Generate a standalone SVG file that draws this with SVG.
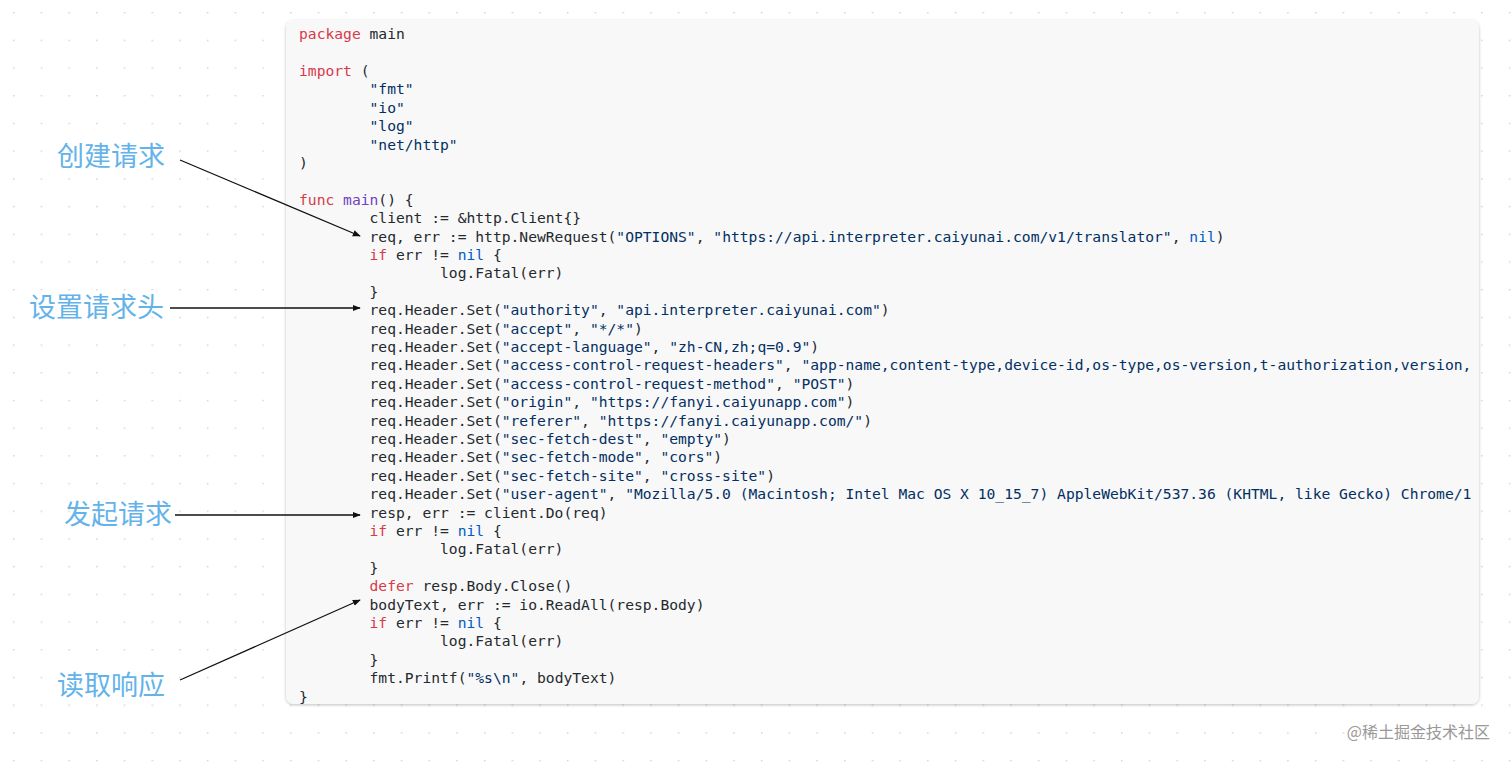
<svg xmlns="http://www.w3.org/2000/svg" width="1512" height="763" viewBox="0 0 1512 763">
<defs>
<pattern id="dots" x="13" y="12" width="27.7" height="27.7" patternUnits="userSpaceOnUse"><circle cx="0.8" cy="0.8" r="0.8" fill="#c8c8c8"/></pattern>
<filter id="sh" x="-5%" y="-5%" width="110%" height="110%"><feDropShadow dx="0" dy="1" stdDeviation="1.5" flood-color="#000" flood-opacity="0.25"/></filter>
<marker id="ah" viewBox="0 0 10 10" refX="9" refY="5" markerWidth="8" markerHeight="8" orient="auto" markerUnits="userSpaceOnUse"><path d="M0,1 L10,5 L0,9 z" fill="#111"/></marker>
</defs>
<style>
.code{font-family:"DejaVu Sans Mono","Liberation Mono",monospace;font-size:14.65px;fill:#24292e;white-space:pre}
.k{fill:#d73a49}.s{fill:#032f62}.p{fill:#6f42c1}.n{fill:#005cc5}
.lbl{font-family:"Noto Sans CJK SC",sans-serif;font-size:27px;fill:#63b3ea}
.arr{stroke:#111;stroke-width:1.3;fill:none;marker-end:url(#ah)}
</style>
<rect width="1512" height="763" fill="#fff"/>
<rect width="1512" height="763" fill="url(#dots)"/>
<g id="codebox">
<rect x="286" y="20" width="1193" height="684" rx="8" fill="#f8f8f8" filter="url(#sh)"/>
<text class="code" xml:space="preserve">
<tspan x="299" y="39"><tspan class="k">package</tspan> main</tspan>
<tspan x="299" y="76"><tspan class="k">import</tspan> (</tspan>
<tspan x="299" y="94.4">        <tspan class="s">"fmt"</tspan></tspan>
<tspan x="299" y="112.8">        <tspan class="s">"io"</tspan></tspan>
<tspan x="299" y="131.2">        <tspan class="s">"log"</tspan></tspan>
<tspan x="299" y="149.6">        <tspan class="s">"net/http"</tspan></tspan>
<tspan x="299" y="168">)</tspan>
<tspan x="299" y="204.8"><tspan class="k">func</tspan> <tspan class="p">main</tspan>() {</tspan>
<tspan x="299" y="223.2">        client := &amp;http.Client{}</tspan>
<tspan x="299" y="241.6">        req, err := http.NewRequest(<tspan class="s">"OPTIONS"</tspan>, <tspan class="s">"https://api.interpreter.caiyunai.com/v1/translator"</tspan>, <tspan class="n">nil</tspan>)</tspan>
<tspan x="299" y="260">        <tspan class="k">if</tspan> err != <tspan class="n">nil</tspan> {</tspan>
<tspan x="299" y="278.4">                log.Fatal(err)</tspan>
<tspan x="299" y="296.8">        }</tspan>
<tspan x="299" y="315.2">        req.Header.Set(<tspan class="s">"authority"</tspan>, <tspan class="s">"api.interpreter.caiyunai.com"</tspan>)</tspan>
<tspan x="299" y="333.6">        req.Header.Set(<tspan class="s">"accept"</tspan>, <tspan class="s">"*/*"</tspan>)</tspan>
<tspan x="299" y="352">        req.Header.Set(<tspan class="s">"accept-language"</tspan>, <tspan class="s">"zh-CN,zh;q=0.9"</tspan>)</tspan>
<tspan x="299" y="370.4">        req.Header.Set(<tspan class="s">"access-control-request-headers"</tspan>, <tspan class="s">"app-name,content-type,device-id,os-type,os-version,t-authorization,version,</tspan></tspan>
<tspan x="299" y="388.8">        req.Header.Set(<tspan class="s">"access-control-request-method"</tspan>, <tspan class="s">"POST"</tspan>)</tspan>
<tspan x="299" y="407.2">        req.Header.Set(<tspan class="s">"origin"</tspan>, <tspan class="s">"https://fanyi.caiyunapp.com"</tspan>)</tspan>
<tspan x="299" y="425.6">        req.Header.Set(<tspan class="s">"referer"</tspan>, <tspan class="s">"https://fanyi.caiyunapp.com/"</tspan>)</tspan>
<tspan x="299" y="444">        req.Header.Set(<tspan class="s">"sec-fetch-dest"</tspan>, <tspan class="s">"empty"</tspan>)</tspan>
<tspan x="299" y="462.4">        req.Header.Set(<tspan class="s">"sec-fetch-mode"</tspan>, <tspan class="s">"cors"</tspan>)</tspan>
<tspan x="299" y="480.8">        req.Header.Set(<tspan class="s">"sec-fetch-site"</tspan>, <tspan class="s">"cross-site"</tspan>)</tspan>
<tspan x="299" y="499.2">        req.Header.Set(<tspan class="s">"user-agent"</tspan>, <tspan class="s">"Mozilla/5.0 (Macintosh; Intel Mac OS X 10_15_7) AppleWebKit/537.36 (KHTML, like Gecko) Chrome/1</tspan></tspan>
<tspan x="299" y="517.6">        resp, err := client.Do(req)</tspan>
<tspan x="299" y="536">        <tspan class="k">if</tspan> err != <tspan class="n">nil</tspan> {</tspan>
<tspan x="299" y="554.4">                log.Fatal(err)</tspan>
<tspan x="299" y="572.8">        }</tspan>
<tspan x="299" y="591.2">        <tspan class="k">defer</tspan> resp.Body.Close()</tspan>
<tspan x="299" y="609.6">        bodyText, err := io.ReadAll(resp.Body)</tspan>
<tspan x="299" y="628">        <tspan class="k">if</tspan> err != <tspan class="n">nil</tspan> {</tspan>
<tspan x="299" y="646.4">                log.Fatal(err)</tspan>
<tspan x="299" y="664.8">        }</tspan>
<tspan x="299" y="683.2">        fmt.Printf(<tspan class="s">"%s\n"</tspan>, bodyText)</tspan>
<tspan x="299" y="701.6">}</tspan>
</text>
</g>
<g id="labels">
<text class="lbl" x="57" y="166">创建请求</text>
<text class="lbl" x="29" y="317">设置请求头</text>
<text class="lbl" x="64" y="524">发起请求</text>
<text class="lbl" x="57" y="695">读取响应</text>
</g>
<g id="connectors">
<line class="arr" x1="180" y1="160" x2="360" y2="236"/>
<line class="arr" x1="170" y1="308" x2="360" y2="308"/>
<line class="arr" x1="175" y1="515" x2="360" y2="515"/>
<line class="arr" x1="180" y1="680" x2="360" y2="600"/>
</g>
<text x="1490" y="738" text-anchor="end" font-family="Noto Sans CJK SC,sans-serif" font-size="16" fill="#999">@稀土掘金技术社区</text>
</svg>
